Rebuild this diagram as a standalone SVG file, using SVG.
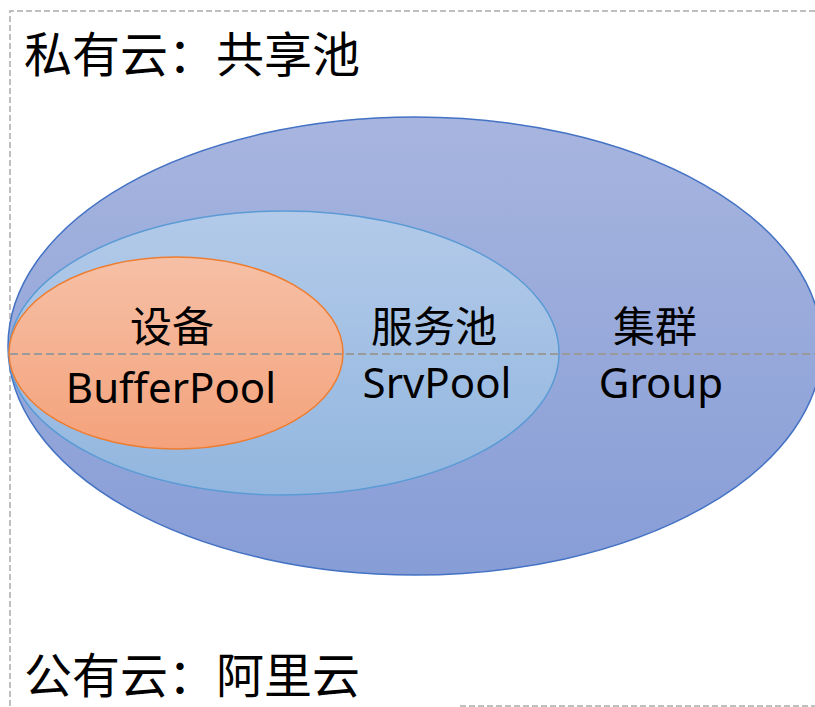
<svg xmlns="http://www.w3.org/2000/svg" width="815" height="707" viewBox="0 0 815 707">
<defs>
<linearGradient id="gOuter" x1="0" y1="0" x2="0" y2="1"><stop offset="0" stop-color="#a7b5df"/><stop offset="1" stop-color="#879dd6"/></linearGradient>
<linearGradient id="gMid" x1="0" y1="0" x2="0" y2="1"><stop offset="0" stop-color="#b3cae9"/><stop offset="1" stop-color="#92b6df"/></linearGradient>
<linearGradient id="gIn" x1="0" y1="0" x2="0" y2="1"><stop offset="0" stop-color="#f6c0a6"/><stop offset="1" stop-color="#f4a27b"/></linearGradient>
<style>
.dash{fill:none;stroke:#bfbfbf;stroke-width:2;stroke-dasharray:6 3}
.mid{fill:none;stroke:#9a9a9a;stroke-width:2;stroke-dasharray:8 4}
.t{font-family:"Noto Sans","Noto Sans CJK SC",sans-serif;fill:#000}
.big{font-size:48px}
.lbl{font-size:42px;text-anchor:middle}
</style>
</defs>
<rect width="815" height="707" fill="#ffffff"/>
<g id="frame">
<path class="dash" d="M10,706 V11 H815"/>
<path class="dash" d="M460,706 H815"/>
</g>
<g id="group">
<ellipse cx="415" cy="346" rx="407" ry="229" fill="url(#gOuter)" stroke="#4472c4" stroke-width="1.5"/>
</g>
<g id="srvpool">
<ellipse cx="284" cy="353" rx="275" ry="142" fill="url(#gMid)" stroke="#5b9bd5" stroke-width="1.5"/>
</g>
<g id="bufferpool">
<ellipse cx="176" cy="353" rx="167" ry="96" fill="url(#gIn)" stroke="#ed7d31" stroke-width="1.5"/>
</g>
<g id="connectors">
<line class="mid" x1="10" y1="354" x2="815" y2="354"/>
</g>
<g id="labels">
<text class="t big" x="24" y="72">私有云：共享池</text>
<text class="t big" x="24" y="693">公有云：阿里云</text>
<text class="t lbl" x="172" y="342">设备</text>
<text class="t lbl" x="171" y="403">BufferPool</text>
<text class="t lbl" x="434" y="342">服务池</text>
<text class="t lbl" x="437" y="398">SrvPool</text>
<text class="t lbl" x="655" y="342">集群</text>
<text class="t lbl" x="661" y="398">Group</text>
</g>
</svg>
